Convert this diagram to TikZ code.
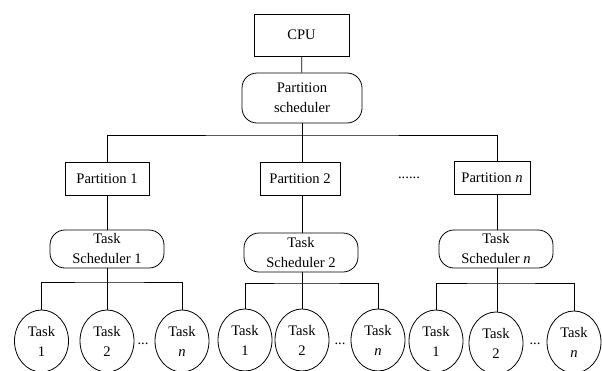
\documentclass[tikz,border=0pt]{standalone}
\usepackage{fontspec}
\setmainfont{Liberation Serif}
\usetikzlibrary{shapes.geometric}
\begin{document}
\begin{tikzpicture}[x=1pt,y=-1pt,
  every node/.style={font=\fontsize{14.6}{20}\selectfont, inner sep=0pt, align=center},
  line/.style={draw=black, line width=0.8pt},
  sqbox/.style={line, rectangle, minimum height=33},
  rbox/.style={line, rectangle, rounded corners=15pt},
  task/.style={line, ellipse, minimum width=54, minimum height=62},
  dots/.style={anchor=base}
]
\useasboundingbox (0,0) rectangle (602,370);

% top level
\node[sqbox, minimum width=95, minimum height=42] (cpu) at (301.5,35) {CPU};
\node[rbox, minimum width=120, minimum height=50] (ps) at (302,98) {Partition\\scheduler};
\coordinate (bus) at (302,135);

% partitions
\node[sqbox, minimum width=84] (p1) at (107,178.5) {Partition 1};
\node[sqbox, minimum width=80] (p2) at (300,179) {Partition 2};
\node[sqbox, minimum width=76] (pn) at (492,178) {Partition \textit{n}};
\node[dots] (pdots) at (409,178) {......};

% task schedulers
\node[rbox, minimum width=114, minimum height=38] (ts1) at (107,249) {Task\\Scheduler 1};
\node[rbox, minimum width=114, minimum height=39] (ts2) at (301,252.5) {Task\\Scheduler 2};
\node[rbox, minimum width=114, minimum height=38] (tsn) at (496,249) {Task\\Scheduler \textit{n}};

% tasks of partition 1
\coordinate (b1) at (107,282);
\node[task] (t11) at (41.5,341) {Task\\1};
\node[task] (t12) at (107,341) {Task\\2};
\node[task] (t1n) at (182,341) {Task\\\textit{n}};
\node[dots] (d1) at (143,344) {...};

% tasks of partition 2
\coordinate (b2) at (302,283);
\node[task] (t21) at (245,340) {Task\\1};
\node[task] (t22) at (302,340) {Task\\2};
\node[task] (t2n) at (378,340) {Task\\\textit{n}};
\node[dots] (d2) at (340,344) {...};

% tasks of partition n
\coordinate (b3) at (497,283);
\node[task] (t31) at (436,341) {Task\\1};
\node[task] (t32) at (496,343) {Task\\2};
\node[task] (t3n) at (574,342) {Task\\\textit{n}};
\node[dots] (d3) at (535,344) {...};

% connectors
\draw[line] (cpu) -- (ps);
\draw[line] (ps) -- (bus);
\draw[line] (p1.north) |- (bus) -| ([xshift=5pt]pn.north);
\draw[line] (bus) -| ([xshift=2pt]p2.north);
\draw[line] (p1) -- (ts1);
\draw[line] ([xshift=2pt]p2.south) -- ([xshift=1pt]ts2.north);
\draw[line] ([xshift=5pt]pn.south) -- ([xshift=1pt]tsn.north);

\draw[line] (ts1) -- (b1);
\draw[line] (t11.north) |- (b1) -| (t1n.north);
\draw[line] (b1) -- (t12.north);

\draw[line] ([xshift=1pt]ts2.south) -- (b2);
\draw[line] (t21.north) |- (b2) -| (t2n.north);
\draw[line] (b2) -- (t22.north);

\draw[line] ([xshift=1pt]tsn.south) -- (b3);
\draw[line] (t31.north) |- (b3) -| (t3n.north);
\draw[line] (b3) -- ([xshift=1pt]t32.north);
\end{tikzpicture}
\end{document}
